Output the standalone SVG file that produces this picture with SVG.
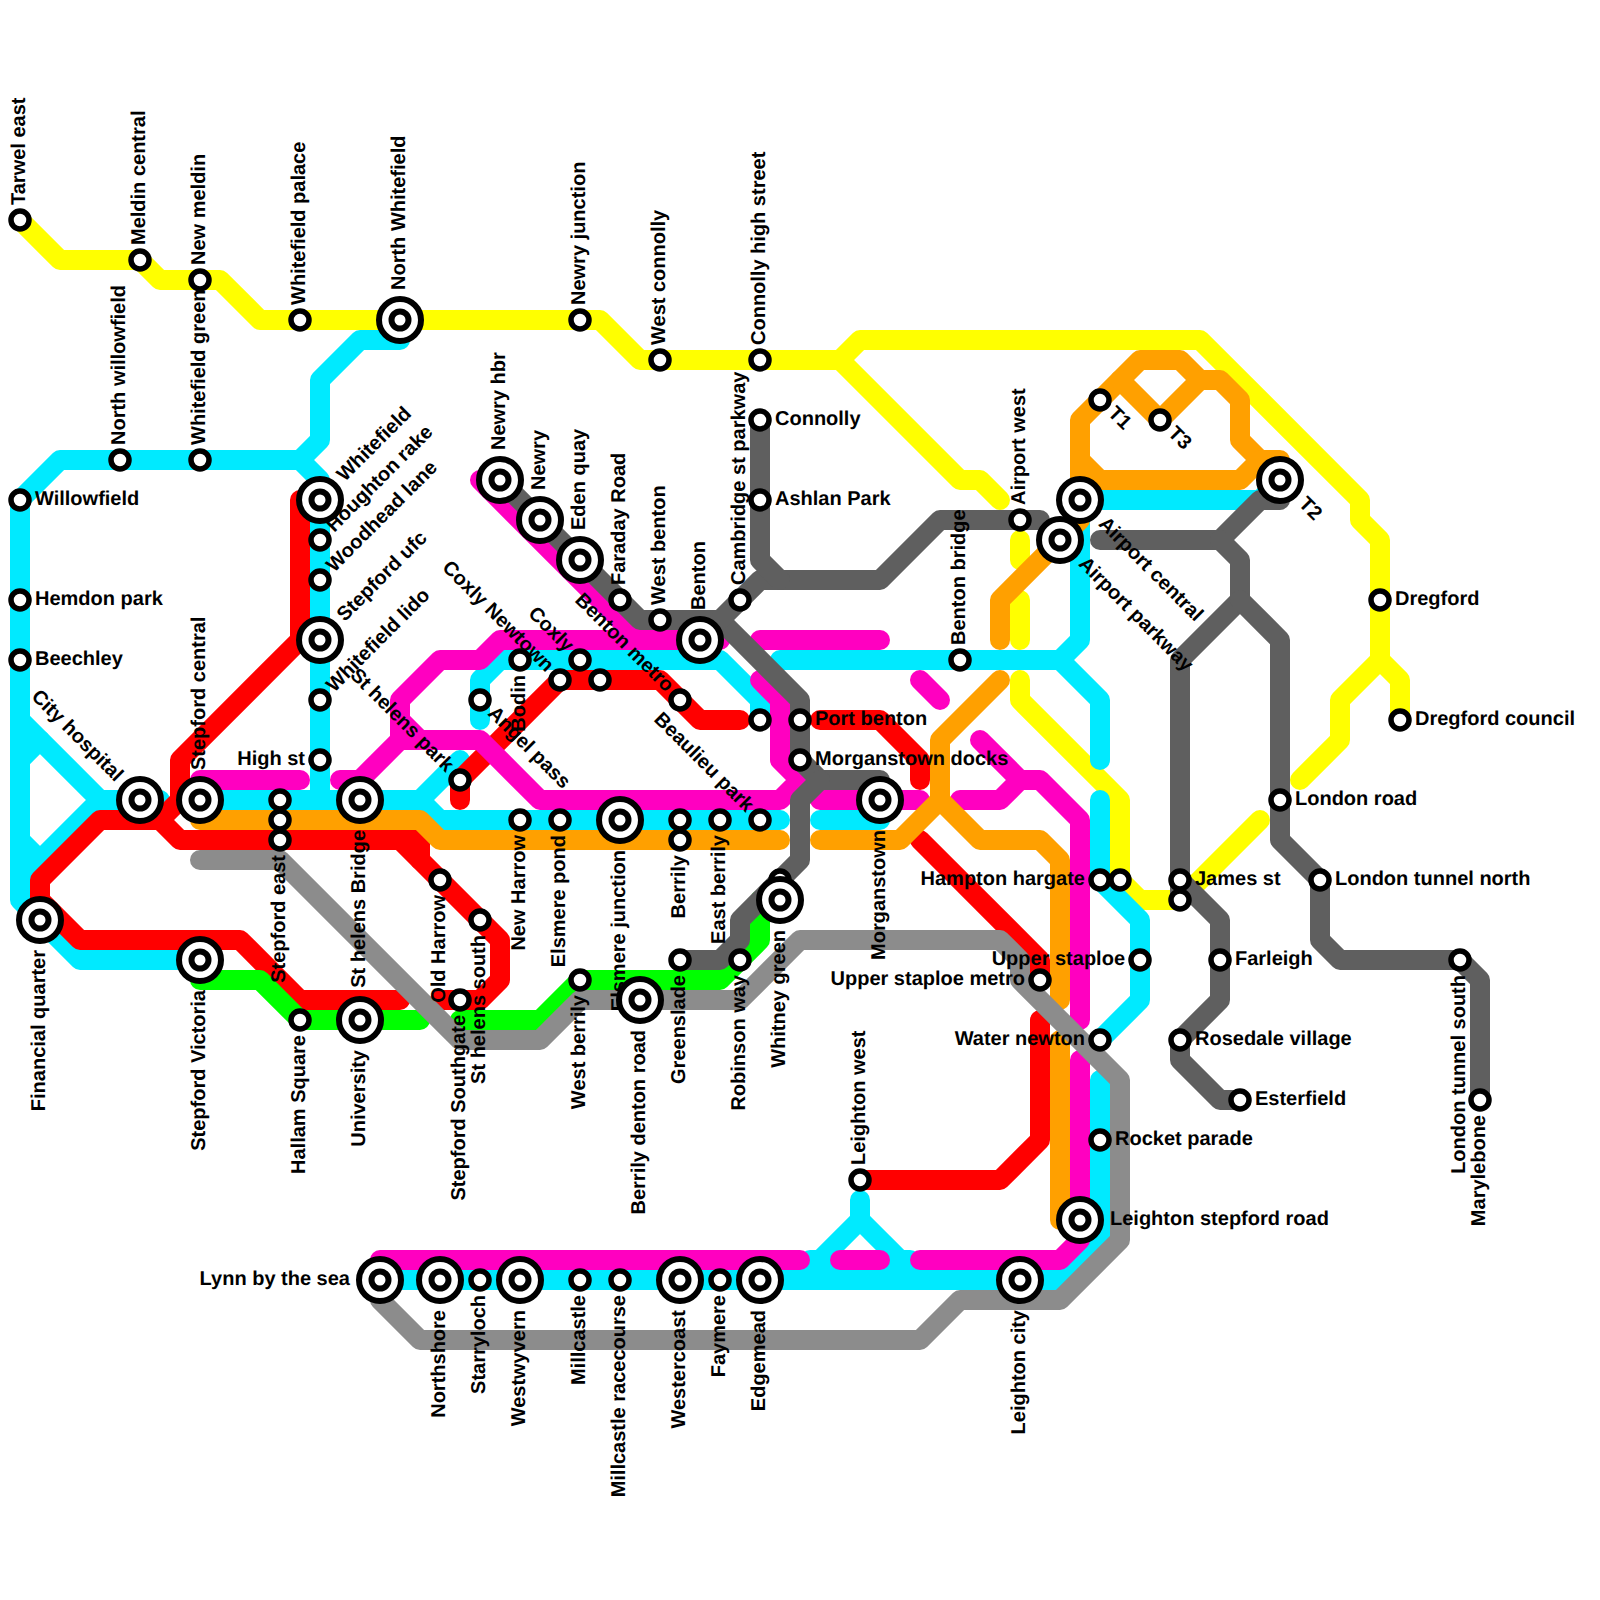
<svg xmlns="http://www.w3.org/2000/svg" width="1600" height="1600" viewBox="0 0 1600 1600">
<style>
.l{fill:none;stroke-width:20;stroke-linecap:round;stroke-linejoin:round}
.y{stroke:#ffff00}.c{stroke:#00eaff}.r{stroke:#ff0000}.m{stroke:#ff00c0}.o{stroke:#ffa000}.g{stroke:#00ff00}.d{stroke:#5f5f5f}.n{stroke:#8c8c8c}
.s{fill:#fff;stroke:#000;stroke-width:5.5}
.b{fill:#fff;stroke:#000;stroke-width:6}
text{font-family:"Liberation Sans",Arial,sans-serif;font-weight:700;font-size:20px;fill:#000;text-rendering:geometricPrecision}
.e{text-anchor:end}
</style>
<defs>
<g id="sm"><circle class="s" r="9"/></g>
<g id="bg"><circle class="b" r="21"/><circle class="b" r="8.5"/></g>
</defs>
<rect width="1600" height="1600" fill="#fff"/>
<g id="connectors" class="l">
<g class="y">
<path d="M20 220L60 260H140L160 280H220L260 320H600L640 360H840L860 340H1200L1360 500V520L1380 540V660L1340 700V740L1300 780"/>
<path d="M1380 660L1400 680V720"/>
<path d="M840 360L960 480H980L1000 500"/>
<path d="M1020 540V560"/>
<path d="M1020 600V640"/>
<path d="M1020 680V700L1120 800V880L1140 900H1180L1260 820"/>
</g>
<g class="c">
<path d="M400 340H360L320 380V440L300 460H60L20 500V900L80 960H200"/>
<path d="M300 460L320 480V800"/>
<path d="M20 720L100 800H160"/>
<path d="M20 880L100 800"/>
<path d="M20 760L40 740"/>
<path d="M20 840L40 860"/>
<path d="M200 800H420L440 820H780"/>
<path d="M420 800L460 760"/>
<path d="M820 820H880"/>
<path d="M480 720V680L500 660H720L760 700V720"/>
<path d="M780 660H1060L1080 640V500H1260L1280 480"/>
<path d="M1060 660L1100 700V760"/>
<path d="M1100 800V880L1140 920V1000L1100 1040"/>
<path d="M1100 1080V1240L1060 1280H380"/>
<path d="M860 1200V1220L800 1280"/>
<path d="M860 1220L920 1280"/>
<path d="M810 1260H910"/>
</g>
<g class="r">
<path d="M40 920V880L100 820H160L180 840H420V860"/>
<path d="M400 840L500 940V980L480 1000H440"/>
<path d="M40 900L80 940H240L300 1000H400"/>
<path d="M160 820L180 800V760L300 640V500H320"/>
<path d="M460 800V780L560 680H660L700 720H740"/>
<path d="M820 720H880L920 760V780"/>
<path d="M920 840L1040 960V980"/>
<path d="M1040 1020V1140L1000 1180H860"/>
</g>
<g class="m">
<path d="M200 780H300"/>
<path d="M340 780H360L400 740H480L540 800H780L800 780L780 760V700L760 680"/>
<path d="M400 740V700L440 660H480L500 640H720"/>
<path d="M400 720L420 740"/>
<path d="M480 480L640 640"/>
<path d="M760 640H880"/>
<path d="M920 680L940 700"/>
<path d="M980 740L1020 780H1040L1080 820V1020"/>
<path d="M960 800H1000L1020 780"/>
<path d="M820 800H920"/>
<path d="M1080 1060V1240L1060 1260H920"/>
<path d="M840 1260H880"/>
<path d="M380 1260H800"/>
</g>
<g class="o">
<path d="M200 820H420L440 840H780"/>
<path d="M820 840H900L940 800V740L1000 680"/>
<path d="M940 800L980 840H1040L1060 860V1000"/>
<path d="M1060 1040V1220"/>
<path d="M1000 640V600L1080 520"/>
<path d="M1080 500V420L1140 360H1180L1200 380H1220L1240 400V440L1260 460H1280"/>
<path d="M1080 460L1100 480H1240L1260 460"/>
<path d="M1120 380L1160 420L1200 380"/>
</g>
<g class="g">
<path d="M200 980H260L300 1020H420"/>
<path d="M460 1020H540L580 980H720L760 940V900"/>
</g>
<g class="d">
<path d="M500 480L640 620H720L800 700V760L820 780H880"/>
<path d="M820 780L800 800V860L740 920V940L720 960H680"/>
<path d="M720 620L760 580H880L940 520H1040"/>
<path d="M760 420V560L780 580"/>
<path d="M1100 540H1220L1260 500H1280"/>
<path d="M1220 540L1240 560V600L1180 660V900"/>
<path d="M1180 880L1220 920V1000L1180 1040V1060L1220 1100H1240"/>
<path d="M1240 600L1280 640V840L1320 880V940L1340 960H1460L1480 980V1100"/>
</g>
<g class="n">
<path d="M200 860H280L460 1040H540L580 1000H740L800 940H1000L1020 960V980L1120 1080V1240L1060 1300H960L920 1340H420L380 1300"/>
</g>
</g>
<g id="st-1"><use href="#sm" x="20" y="220"/><text transform="translate(20 220) rotate(-90)" x="15" y="5">Tarwel east</text></g>
<g id="st-2"><use href="#sm" x="140" y="260"/><text transform="translate(140 260) rotate(-90)" x="15" y="5">Meldin central</text></g>
<g id="st-3"><use href="#sm" x="200" y="280"/><text transform="translate(200 280) rotate(-90)" x="15" y="5">New meldin</text></g>
<g id="st-4"><use href="#sm" x="300" y="320"/><text transform="translate(300 320) rotate(-90)" x="15" y="5">Whitefield palace</text></g>
<g id="st-5"><use href="#bg" x="400" y="320"/><text transform="translate(400 320) rotate(-90)" x="30" y="5">North Whitefield</text></g>
<g id="st-6"><use href="#sm" x="580" y="320"/><text transform="translate(580 320) rotate(-90)" x="15" y="5">Newry junction</text></g>
<g id="st-7"><use href="#sm" x="660" y="360"/><text transform="translate(660 360) rotate(-90)" x="15" y="5">West connolly</text></g>
<g id="st-8"><use href="#sm" x="760" y="360"/><text transform="translate(760 360) rotate(-90)" x="15" y="5">Connolly high street</text></g>
<g id="st-9"><use href="#sm" x="120" y="460"/><text transform="translate(120 460) rotate(-90)" x="15" y="5">North willowfield</text></g>
<g id="st-10"><use href="#sm" x="200" y="460"/><text transform="translate(200 460) rotate(-90)" x="15" y="5">Whitefield green</text></g>
<g id="st-11"><use href="#sm" x="20" y="500"/><text transform="translate(20 500)" x="15" y="5">Willowfield</text></g>
<g id="st-12"><use href="#sm" x="20" y="600"/><text transform="translate(20 600)" x="15" y="5">Hemdon park</text></g>
<g id="st-13"><use href="#sm" x="20" y="660"/><text transform="translate(20 660)" x="15" y="5">Beechley</text></g>
<g id="st-14"><use href="#bg" x="140" y="800"/><text class="e" transform="translate(140 800) rotate(45)" x="-30" y="5">City hospital</text></g>
<g id="st-15"><use href="#bg" x="40" y="920"/><text class="e" transform="translate(40 920) rotate(-90)" x="-30" y="5">Financial quarter</text></g>
<g id="st-16"><use href="#bg" x="200" y="800"/><text transform="translate(200 800) rotate(-90)" x="30" y="5">Stepford central</text></g>
<g id="st-17"><use href="#bg" x="200" y="960"/><text class="e" transform="translate(200 960) rotate(-90)" x="-30" y="5">Stepford Victoria</text></g>
<g id="st-18"><use href="#sm" x="280" y="800"/></g>
<g id="st-19"><use href="#sm" x="280" y="820"/></g>
<g id="st-20"><use href="#sm" x="280" y="840"/><text class="e" transform="translate(280 840) rotate(-90)" x="-15" y="5">Stepford east</text></g>
<g id="st-21"><use href="#bg" x="320" y="500"/><text transform="translate(320 500) rotate(-45)" x="30" y="5">Whitefield</text></g>
<g id="st-22"><use href="#sm" x="320" y="540"/><text transform="translate(320 540) rotate(-45)" x="15" y="5">Houghton rake</text></g>
<g id="st-23"><use href="#sm" x="320" y="580"/><text transform="translate(320 580) rotate(-45)" x="15" y="5">Woodhead lane</text></g>
<g id="st-24"><use href="#bg" x="320" y="640"/><text transform="translate(320 640) rotate(-45)" x="30" y="5">Stepford ufc</text></g>
<g id="st-25"><use href="#sm" x="320" y="700"/><text transform="translate(320 700) rotate(-45)" x="15" y="5">Whitefield lido</text></g>
<g id="st-26"><use href="#sm" x="320" y="760"/><text class="e" transform="translate(320 760)" x="-15" y="5">High st</text></g>
<g id="st-27"><use href="#bg" x="360" y="800"/><text class="e" transform="translate(360 800) rotate(-90)" x="-30" y="5">St helens Bridge</text></g>
<g id="st-28"><use href="#bg" x="360" y="1020"/><text class="e" transform="translate(360 1020) rotate(-90)" x="-30" y="5">University</text></g>
<g id="st-29"><use href="#sm" x="300" y="1020"/><text class="e" transform="translate(300 1020) rotate(-90)" x="-15" y="5">Hallam Square</text></g>
<g id="st-30"><use href="#sm" x="440" y="880"/><text class="e" transform="translate(440 880) rotate(-90)" x="-15" y="5">Old Harrow</text></g>
<g id="st-31"><use href="#sm" x="480" y="920"/><text class="e" transform="translate(480 920) rotate(-90)" x="-15" y="5">St helens south</text></g>
<g id="st-32"><use href="#sm" x="460" y="1000"/><text class="e" transform="translate(460 1000) rotate(-90)" x="-15" y="5">Stepford Southgate</text></g>
<g id="st-33"><use href="#sm" x="460" y="780"/><text class="e" transform="translate(460 780) rotate(45)" x="-15" y="5">St helens park</text></g>
<g id="st-34"><use href="#sm" x="480" y="700"/><text transform="translate(480 700) rotate(45)" x="15" y="5">Angel pass</text></g>
<g id="st-35"><use href="#sm" x="520" y="660"/><text class="e" transform="translate(520 660) rotate(-90)" x="-15" y="5">Bodin</text></g>
<g id="st-36"><use href="#sm" x="520" y="820"/><text class="e" transform="translate(520 820) rotate(-90)" x="-15" y="5">New Harrow</text></g>
<g id="st-37"><use href="#sm" x="560" y="820"/><text class="e" transform="translate(560 820) rotate(-90)" x="-15" y="5">Elsmere pond</text></g>
<g id="st-38"><use href="#sm" x="560" y="680"/><text class="e" transform="translate(560 680) rotate(45)" x="-15" y="5">Coxly Newtown</text></g>
<g id="st-39"><use href="#sm" x="580" y="660"/><text class="e" transform="translate(580 660) rotate(45)" x="-15" y="5">Coxly</text></g>
<g id="st-40"><use href="#sm" x="600" y="680"/></g>
<g id="st-41"><use href="#sm" x="680" y="700"/><text class="e" transform="translate(680 700) rotate(45)" x="-15" y="5">Benton metro</text></g>
<g id="st-42"><use href="#bg" x="500" y="480"/><text transform="translate(500 480) rotate(-90)" x="30" y="5">Newry hbr</text></g>
<g id="st-43"><use href="#bg" x="540" y="520"/><text transform="translate(540 520) rotate(-90)" x="30" y="5">Newry</text></g>
<g id="st-44"><use href="#bg" x="580" y="560"/><text transform="translate(580 560) rotate(-90)" x="30" y="5">Eden quay</text></g>
<g id="st-45"><use href="#sm" x="620" y="600"/><text transform="translate(620 600) rotate(-90)" x="15" y="5">Faraday Road</text></g>
<g id="st-46"><use href="#sm" x="660" y="620"/><text transform="translate(660 620) rotate(-90)" x="15" y="5">West benton</text></g>
<g id="st-47"><use href="#bg" x="700" y="640"/><text transform="translate(700 640) rotate(-90)" x="30" y="5">Benton</text></g>
<g id="st-48"><use href="#sm" x="740" y="600"/><text transform="translate(740 600) rotate(-90)" x="15" y="5">Cambridge st parkway</text></g>
<g id="st-49"><use href="#sm" x="760" y="420"/><text transform="translate(760 420)" x="15" y="5">Connolly</text></g>
<g id="st-50"><use href="#sm" x="760" y="500"/><text transform="translate(760 500)" x="15" y="5">Ashlan Park</text></g>
<g id="st-51"><use href="#sm" x="760" y="820"/><text class="e" transform="translate(760 820) rotate(45)" x="-15" y="5">Beaulieu park</text></g>
<g id="st-52"><use href="#sm" x="760" y="720"/></g>
<g id="st-53"><use href="#sm" x="800" y="720"/><text transform="translate(800 720)" x="15" y="5">Port benton</text></g>
<g id="st-54"><use href="#sm" x="800" y="760"/><text transform="translate(800 760)" x="15" y="5">Morganstown docks</text></g>
<g id="st-55"><use href="#bg" x="880" y="800"/><text class="e" transform="translate(880 800) rotate(-90)" x="-30" y="5">Morganstown</text></g>
<g id="st-56"><use href="#bg" x="620" y="820"/><text class="e" transform="translate(620 820) rotate(-90)" x="-30" y="5">Elsmere junction</text></g>
<g id="st-57"><use href="#sm" x="680" y="820"/></g>
<g id="st-58"><use href="#sm" x="680" y="840"/><text class="e" transform="translate(680 840) rotate(-90)" x="-15" y="5">Berrily</text></g>
<g id="st-59"><use href="#sm" x="720" y="820"/><text class="e" transform="translate(720 820) rotate(-90)" x="-15" y="5">East berrily</text></g>
<g id="st-60"><use href="#sm" x="780" y="880"/></g>
<g id="st-61"><use href="#bg" x="780" y="900"/><text class="e" transform="translate(780 900) rotate(-90)" x="-30" y="5">Whitney green</text></g>
<g id="st-62"><use href="#sm" x="740" y="960"/><text class="e" transform="translate(740 960) rotate(-90)" x="-15" y="5">Robinson way</text></g>
<g id="st-63"><use href="#sm" x="680" y="960"/><text class="e" transform="translate(680 960) rotate(-90)" x="-15" y="5">Greenslade</text></g>
<g id="st-64"><use href="#sm" x="580" y="980"/><text class="e" transform="translate(580 980) rotate(-90)" x="-15" y="5">West berrily</text></g>
<g id="st-65"><use href="#bg" x="640" y="1000"/><text class="e" transform="translate(640 1000) rotate(-90)" x="-30" y="5">Berrily denton road</text></g>
<g id="st-66"><use href="#sm" x="960" y="660"/><text transform="translate(960 660) rotate(-90)" x="15" y="5">Benton bridge</text></g>
<g id="st-67"><use href="#sm" x="1020" y="520"/><text transform="translate(1020 520) rotate(-90)" x="15" y="5">Airport west</text></g>
<g id="st-68"><use href="#bg" x="1060" y="540"/><text transform="translate(1060 540) rotate(45)" x="30" y="5">Airport parkway</text></g>
<g id="st-69"><use href="#bg" x="1080" y="500"/><text transform="translate(1080 500) rotate(45)" x="30" y="5">Airport central</text></g>
<g id="st-70"><use href="#sm" x="1100" y="400"/><text transform="translate(1100 400) rotate(45)" x="15" y="5">T1</text></g>
<g id="st-71"><use href="#sm" x="1160" y="420"/><text transform="translate(1160 420) rotate(45)" x="15" y="5">T3</text></g>
<g id="st-72"><use href="#bg" x="1280" y="480"/><text transform="translate(1280 480) rotate(45)" x="30" y="5">T2</text></g>
<g id="st-73"><use href="#sm" x="1380" y="600"/><text transform="translate(1380 600)" x="15" y="5">Dregford</text></g>
<g id="st-74"><use href="#sm" x="1400" y="720"/><text transform="translate(1400 720)" x="15" y="5">Dregford council</text></g>
<g id="st-75"><use href="#sm" x="1280" y="800"/><text transform="translate(1280 800)" x="15" y="5">London road</text></g>
<g id="st-76"><use href="#sm" x="1180" y="880"/><text transform="translate(1180 880)" x="15" y="5">James st</text></g>
<g id="st-77"><use href="#sm" x="1180" y="900"/></g>
<g id="st-78"><use href="#sm" x="1320" y="880"/><text transform="translate(1320 880)" x="15" y="5">London tunnel north</text></g>
<g id="st-79"><use href="#sm" x="1220" y="960"/><text transform="translate(1220 960)" x="15" y="5">Farleigh</text></g>
<g id="st-80"><use href="#sm" x="1180" y="1040"/><text transform="translate(1180 1040)" x="15" y="5">Rosedale village</text></g>
<g id="st-81"><use href="#sm" x="1240" y="1100"/><text transform="translate(1240 1100)" x="15" y="5">Esterfield</text></g>
<g id="st-82"><use href="#sm" x="1460" y="960"/><text class="e" transform="translate(1460 960) rotate(-90)" x="-15" y="5">London tunnel south</text></g>
<g id="st-83"><use href="#sm" x="1480" y="1100"/><text class="e" transform="translate(1480 1100) rotate(-90)" x="-15" y="5">Marylebone</text></g>
<g id="st-84"><use href="#sm" x="1100" y="880"/><text class="e" transform="translate(1100 880)" x="-15" y="5">Hampton hargate</text></g>
<g id="st-85"><use href="#sm" x="1120" y="880"/></g>
<g id="st-86"><use href="#sm" x="1140" y="960"/><text class="e" transform="translate(1140 960)" x="-15" y="5">Upper staploe</text></g>
<g id="st-87"><use href="#sm" x="1040" y="980"/><text class="e" transform="translate(1040 980)" x="-15" y="5">Upper staploe metro</text></g>
<g id="st-88"><use href="#sm" x="1100" y="1040"/><text class="e" transform="translate(1100 1040)" x="-15" y="5">Water newton</text></g>
<g id="st-89"><use href="#sm" x="1100" y="1140"/><text transform="translate(1100 1140)" x="15" y="5">Rocket parade</text></g>
<g id="st-90"><use href="#bg" x="1080" y="1220"/><text transform="translate(1080 1220)" x="30" y="5">Leighton stepford road</text></g>
<g id="st-91"><use href="#sm" x="860" y="1180"/><text transform="translate(860 1180) rotate(-90)" x="15" y="5">Leighton west</text></g>
<g id="st-92"><use href="#bg" x="1020" y="1280"/><text class="e" transform="translate(1020 1280) rotate(-90)" x="-30" y="5">Leighton city</text></g>
<g id="st-93"><use href="#bg" x="380" y="1280"/><text class="e" transform="translate(380 1280)" x="-30" y="5">Lynn by the sea</text></g>
<g id="st-94"><use href="#bg" x="440" y="1280"/><text class="e" transform="translate(440 1280) rotate(-90)" x="-30" y="5">Northshore</text></g>
<g id="st-95"><use href="#sm" x="480" y="1280"/><text class="e" transform="translate(480 1280) rotate(-90)" x="-15" y="5">Starryloch</text></g>
<g id="st-96"><use href="#bg" x="520" y="1280"/><text class="e" transform="translate(520 1280) rotate(-90)" x="-30" y="5">Westwyvern</text></g>
<g id="st-97"><use href="#sm" x="580" y="1280"/><text class="e" transform="translate(580 1280) rotate(-90)" x="-15" y="5">Millcastle</text></g>
<g id="st-98"><use href="#sm" x="620" y="1280"/><text class="e" transform="translate(620 1280) rotate(-90)" x="-15" y="5">Millcastle racecourse</text></g>
<g id="st-99"><use href="#bg" x="680" y="1280"/><text class="e" transform="translate(680 1280) rotate(-90)" x="-30" y="5">Westercoast</text></g>
<g id="st-100"><use href="#sm" x="720" y="1280"/><text class="e" transform="translate(720 1280) rotate(-90)" x="-15" y="5">Faymere</text></g>
<g id="st-101"><use href="#bg" x="760" y="1280"/><text class="e" transform="translate(760 1280) rotate(-90)" x="-30" y="5">Edgemead</text></g>
</svg>
